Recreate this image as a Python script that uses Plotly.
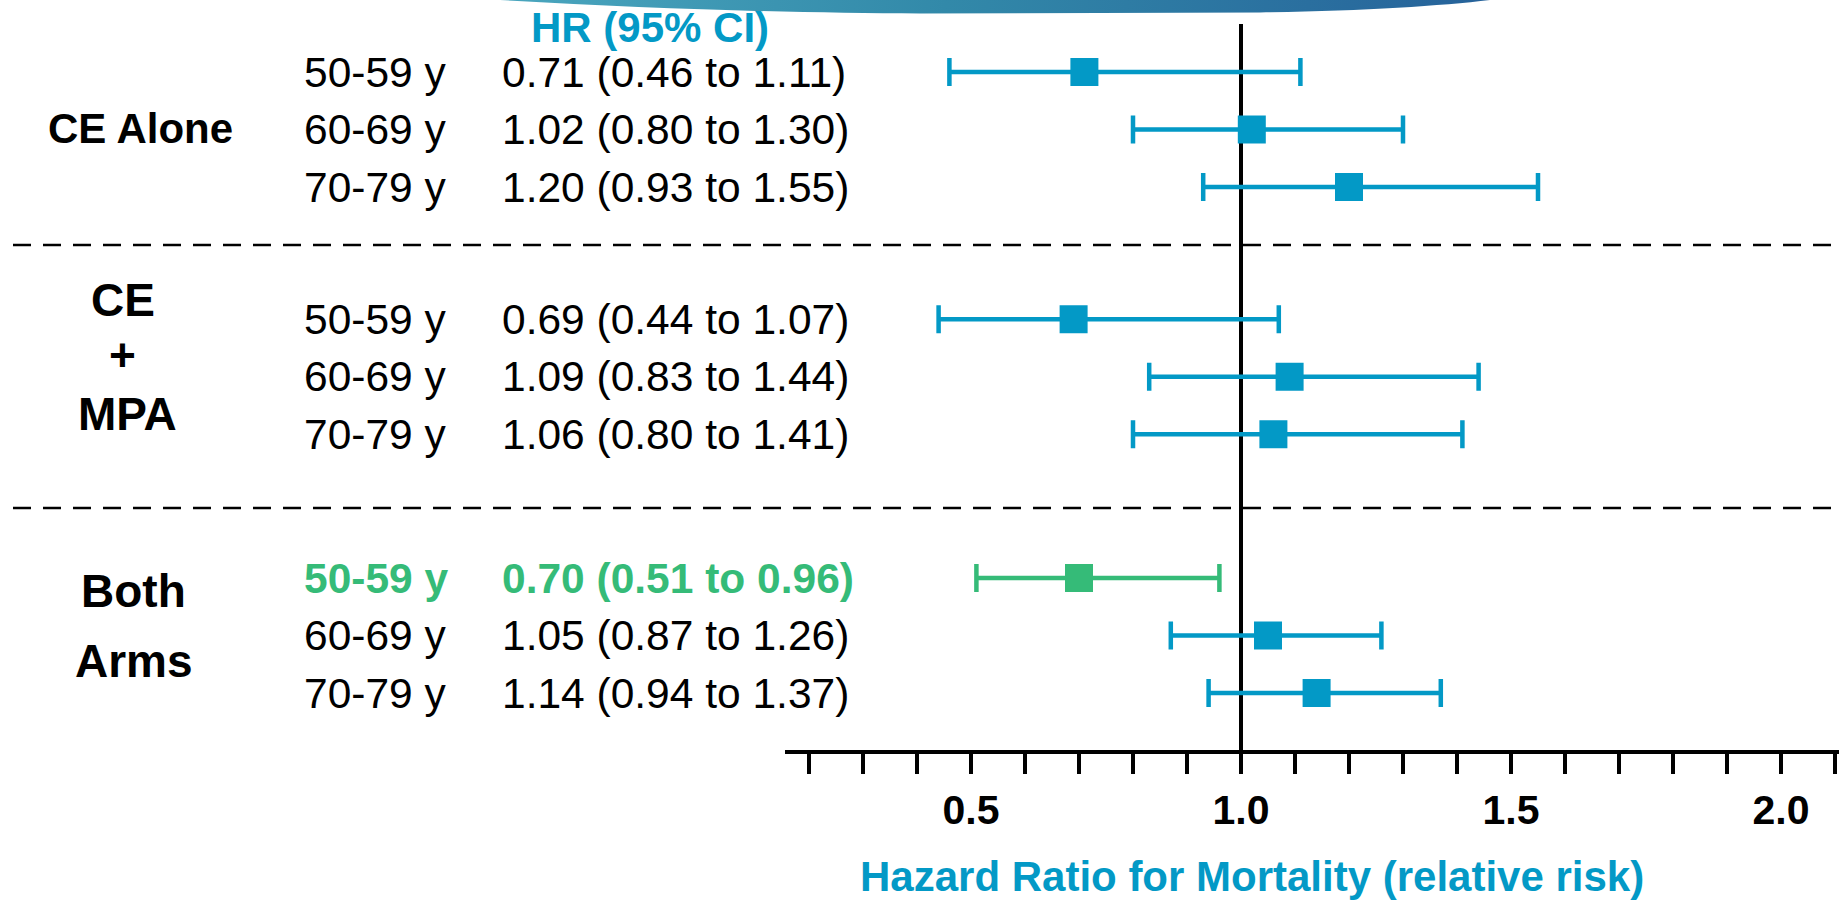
import base64
import plotly.graph_objects as go

# ---------------- data ----------------
groups = ["CE Alone", "CE + MPA", "Both Arms"]
age_groups = ["50-59 y", "60-69 y", "70-79 y"]
hr = [0.71, 1.02, 1.20, 0.69, 1.09, 1.06, 0.70, 1.05, 1.14]
ci_low = [0.46, 0.80, 0.93, 0.44, 0.83, 0.80, 0.51, 0.87, 0.94]
ci_high = [1.11, 1.30, 1.55, 1.07, 1.44, 1.41, 0.96, 1.26, 1.37]
highlight = [False, False, False, False, False, False, True, False, False]
x_tick_values = [0.5, 1.0, 1.5, 2.0]
x_tick_labels = ["0.5", "1.0", "1.5", "2.0"]
header_text = "HR (95% CI)"
x_title = "Hazard Ratio for Mortality (relative risk)"
group_label_lines = [["CE Alone"], ["CE", "+", "MPA"], ["Both", "Arms"]]

# ---------------- layout constants ----------------
W, H = 1839, 900
BLUE = "#0399C6"
GREEN = "#35BB78"
FONT = "Liberation Sans, Arial, Helvetica, sans-serif"
group_offset = [0.0, 4.3, 8.8]          # row slots (group gaps)
ROW0_PX, ROW_PX = 72.0, 57.5             # pixel of first row, pixels per row slot
group_label_px = [[(140, 128)], [(123, 300), (122, 355), (128, 414)], [(133, 591), (134, 661)]]
group_label_size = [42, 46, 46]
ROW_FONT = 42.5


def px_x(px):
    return px / W


def px_y(py):
    return 1 - py / H


fig = go.Figure()

annotations = []
for g in range(len(groups)):
    for i, age in enumerate(age_groups):
        k = g * len(age_groups) + i
        y = group_offset[g] + i
        col = GREEN if highlight[k] else BLUE
        fig.add_trace(go.Scatter(
            x=[hr[k]], y=[y], mode="markers",
            marker=dict(symbol="square", size=28, color=col, line=dict(width=0)),
            error_x=dict(type="data", symmetric=False,
                         array=[ci_high[k] - hr[k]], arrayminus=[hr[k] - ci_low[k]],
                         color=col, thickness=4.5, width=14),
            showlegend=False, hoverinfo="skip",
        ))
        txt_col = GREEN if highlight[k] else "black"
        age_txt = f"<b>{age}</b>" if highlight[k] else age
        val = f"{hr[k]:.2f} ({ci_low[k]:.2f} to {ci_high[k]:.2f})"
        val_txt = f"<b>{val}</b>" if highlight[k] else val
        for xpx, t in ((302, age_txt), (500, val_txt)):
            annotations.append(dict(
                x=px_x(xpx), xref="paper", y=y, yref="y",
                text=t, showarrow=False, xanchor="left", yanchor="middle",
                font=dict(family=FONT, size=ROW_FONT, color=txt_col),
            ))

# group labels
for g, lines in enumerate(group_label_lines):
    for line, (xp, yp) in zip(lines, group_label_px[g]):
        annotations.append(dict(
            x=px_x(xp), xref="paper", y=px_y(yp), yref="paper",
            text=f"<b>{line}</b>", showarrow=False, xanchor="center", yanchor="middle",
            font=dict(family=FONT, size=group_label_size[g], color="black"),
        ))

# header and axis title
annotations.append(dict(x=px_x(650), xref="paper", y=px_y(28), yref="paper",
                        text=f"<b>{header_text}</b>", showarrow=False,
                        xanchor="center", yanchor="middle",
                        font=dict(family=FONT, size=42, color=BLUE)))
annotations.append(dict(x=px_x(1252), xref="paper", y=px_y(876), yref="paper",
                        text=f"<b>{x_title}</b>", showarrow=False,
                        xanchor="center", yanchor="middle",
                        font=dict(family=FONT, size=42, color=BLUE)))

shapes = [
    # reference line at HR = 1
    dict(type="line", xref="x", yref="paper", x0=1.0, x1=1.0,
         y0=px_y(752), y1=px_y(24), line=dict(color="black", width=4), layer="below"),
    # group separators
    dict(type="line", xref="paper", yref="paper", x0=px_x(13), x1=1,
         y0=px_y(245), y1=px_y(245), line=dict(color="black", width=2.5, dash="18px,12px")),
    dict(type="line", xref="paper", yref="paper", x0=px_x(13), x1=1,
         y0=px_y(508), y1=px_y(508), line=dict(color="black", width=2.5, dash="18px,12px")),
]

# decorative top swoosh (slide banner)
svg = (
    '<svg xmlns="http://www.w3.org/2000/svg" width="990" height="15" viewBox="0 0 990 15" '
    'preserveAspectRatio="none"><defs><linearGradient id="g" x1="0" x2="1" y1="0" y2="0">'
    '<stop offset="0" stop-color="#4AA6BE"/><stop offset="0.45" stop-color="#3289A9"/>'
    '<stop offset="1" stop-color="#26629A"/></linearGradient></defs>'
    '<path d="M0,0 C150,9 300,13 420,13.5 L760,12.5 C860,11 940,6 990,0 Z" fill="url(#g)"/></svg>'
)
src = "data:image/svg+xml;base64," + base64.b64encode(svg.encode()).decode()

x_left_px, x_one_px, px_per_unit = 785, 1241, 540.0
x_range = [1 + (x_left_px - x_one_px) / px_per_unit, 1 + (W - x_one_px) / px_per_unit]

fig.update_layout(
    width=W, height=H,
    margin=dict(l=0, r=0, t=0, b=0, pad=0),
    paper_bgcolor="white", plot_bgcolor="rgba(0,0,0,0)",
    showlegend=False,
    xaxis=dict(
        domain=[x_left_px / W, 1], range=x_range, anchor="free", position=px_y(752),
        showline=True, linecolor="black", linewidth=4, showgrid=False, zeroline=False,
        tickmode="array", tickvals=x_tick_values, ticktext=x_tick_labels,
        ticks="outside", ticklen=20, tickwidth=3.5, tickcolor="black",
        tickfont=dict(family=FONT, size=41, color="black", weight="bold"),
        ticklabelstandoff=1,
        minor=dict(tickmode="linear", tick0=0, dtick=0.1, ticks="outside",
                   ticklen=20, tickwidth=3.5, tickcolor="black", showgrid=False),
        fixedrange=True,
    ),
    yaxis=dict(domain=[0, 1], range=[(H - ROW0_PX) / ROW_PX, -ROW0_PX / ROW_PX],
               visible=False, fixedrange=True),
    annotations=annotations,
    shapes=shapes,
    images=[dict(source=src, xref="paper", yref="paper", x=px_x(500), y=1,
                 sizex=990 / W, sizey=15 / H, xanchor="left", yanchor="top",
                 sizing="stretch", layer="above")],
)

fig.write_html(
    "out.html",
    config={"displayModeBar": False},
    post_script="document.body.style.margin='0';document.body.style.overflow='hidden';",
)
